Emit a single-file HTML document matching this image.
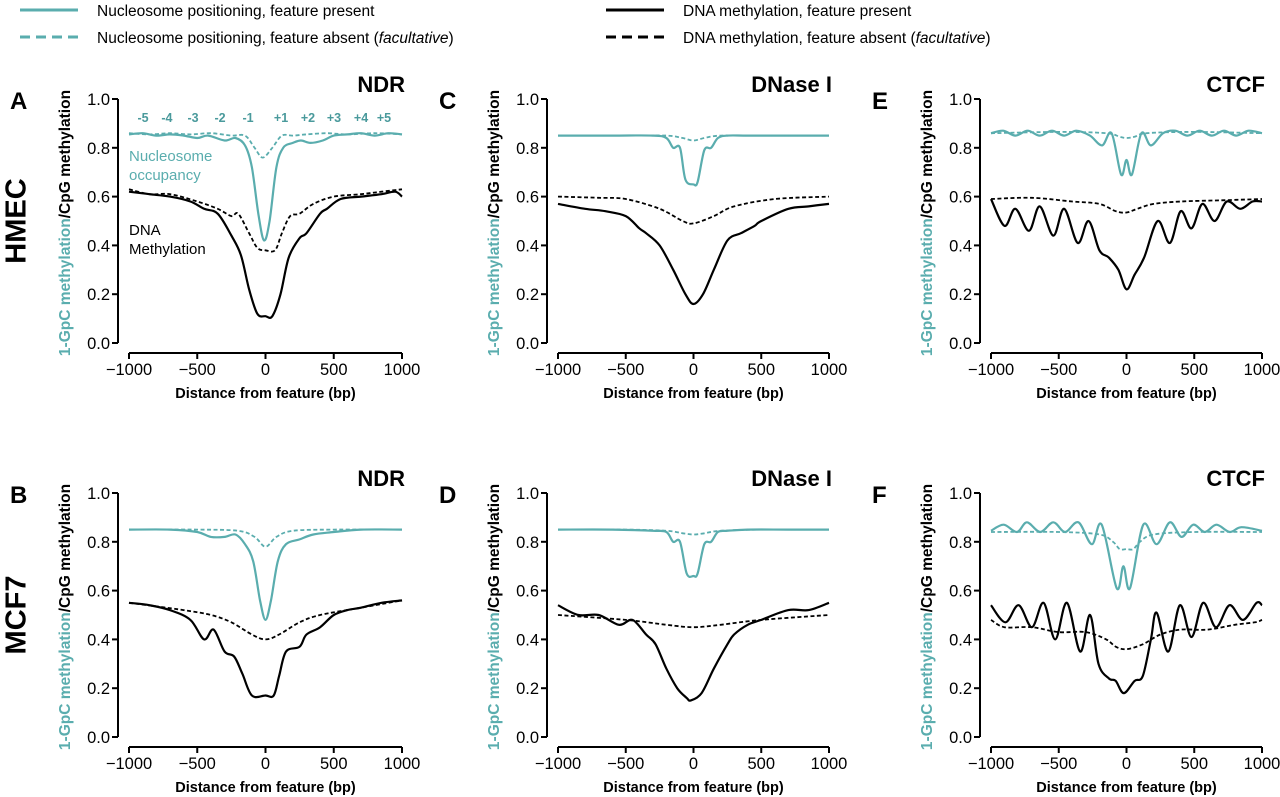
<!DOCTYPE html>
<html><head><meta charset="utf-8">
<style>
body{margin:0;background:#fff;}
svg{display:block;font-family:"Liberation Sans",Arial,sans-serif;}
</style></head>
<body>
<svg id="fig" width="1280" height="797" viewBox="0 0 1280 797" xmlns="http://www.w3.org/2000/svg">
<g font-size="15.5">
  <line x1="20" y1="10" x2="78" y2="10" stroke="#5aadae" stroke-width="3"/>
  <text x="97" y="16">Nucleosome positioning, feature present</text>
  <line x1="20" y1="37" x2="78" y2="37" stroke="#5aadae" stroke-width="3" stroke-dasharray="10,6"/>
  <text x="97" y="43">Nucleosome positioning, feature absent (<tspan font-style="italic">facultative</tspan>)</text>
  <line x1="606" y1="10" x2="664" y2="10" stroke="#000" stroke-width="3"/>
  <text x="683" y="16">DNA methylation, feature present</text>
  <line x1="606" y1="37" x2="664" y2="37" stroke="#000" stroke-width="3" stroke-dasharray="10,6"/>
  <text x="683" y="43">DNA methylation, feature absent (<tspan font-style="italic">facultative</tspan>)</text>
</g>
<text x="18" y="221" transform="rotate(-90 18 221)" text-anchor="middle" dominant-baseline="middle" font-size="29" font-weight="bold">HMEC</text>
<text x="18" y="615" transform="rotate(-90 18 615)" text-anchor="middle" dominant-baseline="middle" font-size="29" font-weight="bold">MCF7</text>
</svg>
<script>
const TEAL = '#5aadae';
const xTicks = [-1000, -500, 0, 500, 1000];
const xTickLabels = ['\u22121000', '\u2212500', '0', '500', '1000'];
const yTicks = [0, 0.2, 0.4, 0.6, 0.8, 1.0];
const yTickLabels = ['0.0', '0.2', '0.4', '0.6', '0.8', '1.0'];
const panelLetters = ['A', 'C', 'E', 'B', 'D', 'F'];
const panelTitles = ['NDR', 'DNase I', 'CTCF', 'NDR', 'DNase I', 'CTCF'];
const nucLabels = ['-5','-4','-3','-2','-1','+1','+2','+3','+4','+5'];
const nucLabelBp = [-897,-722,-531,-333,-128,114,311,502,700,868];

const A_nucP_x = [-1000,-900,-800,-700,-600,-500,-420,-300,-220,-150,-100,-50,-10,30,80,130,200,260,330,420,500,600,700,800,900,1000];
const A_nucP_y = [0.855,0.86,0.85,0.855,0.85,0.84,0.85,0.83,0.84,0.81,0.72,0.52,0.42,0.5,0.72,0.80,0.82,0.83,0.82,0.83,0.85,0.855,0.86,0.85,0.86,0.855];
const A_nucA_x = [-1000,-850,-700,-550,-400,-250,-150,-80,-20,50,120,200,300,450,600,800,1000];
const A_nucA_y = [0.86,0.855,0.86,0.855,0.86,0.85,0.85,0.80,0.76,0.80,0.85,0.85,0.855,0.86,0.855,0.86,0.855];
const A_dnaP_x = [-1000,-850,-700,-550,-450,-350,-250,-180,-120,-60,0,50,110,170,250,300,400,450,550,700,850,950,1000];
const A_dnaP_y = [0.62,0.61,0.60,0.58,0.55,0.53,0.44,0.36,0.22,0.12,0.11,0.11,0.20,0.35,0.43,0.45,0.53,0.55,0.59,0.60,0.61,0.62,0.60];
const A_dnaA_x = [-1000,-850,-700,-500,-350,-250,-200,-120,-60,0,70,120,180,250,350,500,700,850,1000];
const A_dnaA_y = [0.63,0.61,0.61,0.58,0.55,0.52,0.53,0.45,0.39,0.38,0.38,0.45,0.52,0.53,0.57,0.60,0.61,0.62,0.63];

const C_nucP_x = [-1000,-600,-300,-200,-150,-100,-60,0,30,80,130,180,250,400,700,1000];
const C_nucP_y = [0.85,0.85,0.85,0.84,0.80,0.80,0.67,0.65,0.66,0.79,0.80,0.84,0.85,0.85,0.85,0.85];
const C_nucA_x = [-1000,-500,-200,-80,0,80,200,500,1000];
const C_nucA_y = [0.85,0.85,0.85,0.84,0.83,0.84,0.85,0.85,0.85];
const C_dnaP_x = [-1000,-800,-650,-500,-400,-350,-250,-150,-60,0,70,150,250,350,450,500,700,850,1000];
const C_dnaP_y = [0.57,0.55,0.54,0.52,0.47,0.45,0.40,0.30,0.20,0.16,0.20,0.30,0.42,0.45,0.48,0.50,0.55,0.56,0.57];
const C_dnaA_x = [-1000,-700,-500,-250,-80,0,150,300,600,1000];
const C_dnaA_y = [0.60,0.595,0.59,0.55,0.50,0.49,0.52,0.56,0.59,0.60];

const E_nucP_x = [-1000,-910,-820,-730,-640,-550,-460,-370,-270,-180,-110,-40,0,40,110,180,270,360,450,540,630,720,810,900,1000];
const E_nucP_y = [0.86,0.87,0.85,0.87,0.85,0.87,0.85,0.87,0.85,0.81,0.86,0.69,0.75,0.69,0.86,0.81,0.86,0.87,0.85,0.87,0.85,0.87,0.85,0.87,0.86];
const E_nucA_x = [-1000,-500,-150,-50,0,60,150,500,1000];
const E_nucA_y = [0.86,0.865,0.86,0.845,0.84,0.845,0.86,0.865,0.86];
const E_dnaP_x = [-1000,-900,-820,-720,-640,-540,-460,-360,-280,-200,-130,-60,0,60,130,230,320,400,480,560,650,740,840,930,1000];
const E_dnaP_y = [0.59,0.48,0.55,0.46,0.56,0.44,0.55,0.41,0.50,0.38,0.35,0.30,0.22,0.28,0.35,0.50,0.41,0.54,0.47,0.57,0.50,0.58,0.55,0.58,0.58];
const E_dnaA_x = [-1000,-700,-400,-200,-80,0,80,200,400,700,1000];
const E_dnaA_y = [0.59,0.595,0.58,0.57,0.54,0.535,0.55,0.57,0.58,0.585,0.59];

const B_nucP_x = [-1000,-700,-500,-400,-300,-220,-150,-90,-40,0,40,90,150,250,350,500,700,1000];
const B_nucP_y = [0.85,0.85,0.84,0.82,0.82,0.83,0.79,0.72,0.56,0.48,0.56,0.72,0.79,0.81,0.83,0.84,0.85,0.85];
const B_nucA_x = [-1000,-500,-200,-80,0,80,200,500,1000];
const B_nucA_y = [0.85,0.85,0.845,0.82,0.78,0.82,0.845,0.85,0.85];
const B_dnaP_x = [-1000,-850,-700,-550,-450,-380,-300,-230,-170,-100,0,60,100,150,250,300,400,500,600,700,850,1000];
const B_dnaP_y = [0.55,0.54,0.52,0.48,0.40,0.44,0.35,0.33,0.26,0.17,0.17,0.17,0.25,0.35,0.37,0.42,0.45,0.50,0.52,0.53,0.55,0.56];
const B_dnaA_x = [-1000,-600,-400,-250,-100,0,100,250,400,700,1000];
const B_dnaA_y = [0.55,0.52,0.50,0.47,0.42,0.40,0.42,0.47,0.50,0.53,0.56];

const D_nucP_x = [-1000,-600,-300,-200,-150,-100,-50,0,30,80,130,180,250,400,700,1000];
const D_nucP_y = [0.85,0.85,0.845,0.84,0.80,0.80,0.67,0.66,0.67,0.79,0.80,0.84,0.845,0.85,0.85,0.85];
const D_nucA_x = [-1000,-500,-200,-80,0,80,200,500,1000];
const D_nucA_y = [0.85,0.85,0.845,0.835,0.83,0.835,0.845,0.85,0.85];
const D_dnaP_x = [-1000,-850,-700,-550,-450,-350,-280,-200,-120,-50,-20,60,150,250,300,400,500,700,850,1000];
const D_dnaP_y = [0.54,0.50,0.50,0.46,0.48,0.42,0.38,0.28,0.20,0.16,0.15,0.18,0.28,0.38,0.42,0.46,0.48,0.52,0.52,0.55];
const D_dnaA_x = [-1000,-500,-200,0,200,500,1000];
const D_dnaA_y = [0.50,0.48,0.46,0.45,0.46,0.48,0.50];

const F_nucP_x = [-1000,-907,-808,-735,-637,-540,-453,-355,-256,-183,-72,-23,26,124,222,320,406,492,578,664,762,848,1000];
const F_nucP_y = [0.845,0.87,0.84,0.88,0.84,0.88,0.84,0.88,0.79,0.87,0.61,0.70,0.61,0.87,0.79,0.88,0.82,0.87,0.84,0.87,0.84,0.86,0.845];
const F_nucA_x = [-1000,-500,-200,-100,-50,0,50,100,200,500,1000];
const F_nucA_y = [0.84,0.84,0.83,0.80,0.77,0.77,0.77,0.80,0.83,0.84,0.84];
const F_dnaP_x = [-1000,-894,-796,-698,-612,-526,-440,-342,-269,-207,-130,-80,-20,60,120,180,222,308,394,480,566,660,760,860,960,1000];
const F_dnaP_y = [0.54,0.47,0.54,0.45,0.55,0.40,0.55,0.35,0.50,0.30,0.24,0.23,0.18,0.23,0.25,0.40,0.51,0.35,0.54,0.41,0.55,0.45,0.54,0.48,0.55,0.54];
const F_dnaA_x = [-1000,-900,-700,-500,-300,-150,-80,0,120,250,400,600,800,950,1000];
const F_dnaA_y = [0.48,0.45,0.45,0.43,0.43,0.40,0.37,0.36,0.38,0.42,0.44,0.44,0.46,0.47,0.48];

const panelData = [
  [[A_nucP_x,A_nucP_y],[A_nucA_x,A_nucA_y],[A_dnaP_x,A_dnaP_y],[A_dnaA_x,A_dnaA_y]],
  [[C_nucP_x,C_nucP_y],[C_nucA_x,C_nucA_y],[C_dnaP_x,C_dnaP_y],[C_dnaA_x,C_dnaA_y]],
  [[E_nucP_x,E_nucP_y],[E_nucA_x,E_nucA_y],[E_dnaP_x,E_dnaP_y],[E_dnaA_x,E_dnaA_y]],
  [[B_nucP_x,B_nucP_y],[B_nucA_x,B_nucA_y],[B_dnaP_x,B_dnaP_y],[B_dnaA_x,B_dnaA_y]],
  [[D_nucP_x,D_nucP_y],[D_nucA_x,D_nucA_y],[D_dnaP_x,D_dnaP_y],[D_dnaA_x,D_dnaA_y]],
  [[F_nucP_x,F_nucP_y],[F_nucA_x,F_nucA_y],[F_dnaP_x,F_dnaP_y],[F_dnaA_x,F_dnaA_y]]
];
const seriesNames = ['nucleosome-present-line','nucleosome-absent-line','methylation-present-line','methylation-absent-line'];

const cols = [{ax:118,x0:129,x1:402},{ax:547,x0:558,x1:829},{ax:980,x0:991,x1:1262}];
const rows = [{top:99,bot:343},{top:493,bot:737}];
const NS = 'http://www.w3.org/2000/svg';
const svg = document.getElementById('fig');

function mk(tag, attrs, parent, text) {
  const e = document.createElementNS(NS, tag);
  for (const k in attrs) e.setAttribute(k, attrs[k]);
  if (text !== undefined) e.textContent = text;
  parent.appendChild(e);
  return e;
}
function smoothPath(pts) {
  let d = 'M' + pts[0][0].toFixed(1) + ',' + pts[0][1].toFixed(1);
  for (let i = 0; i < pts.length - 1; i++) {
    const p0 = pts[Math.max(i-1,0)], p1 = pts[i], p2 = pts[i+1], p3 = pts[Math.min(i+2,pts.length-1)];
    const c1x = p1[0] + (p2[0]-p0[0])/6, c1y = p1[1] + (p2[1]-p0[1])/6;
    const c2x = p2[0] - (p3[0]-p1[0])/6, c2y = p2[1] - (p3[1]-p1[1])/6;
    d += 'C' + c1x.toFixed(1)+','+c1y.toFixed(1)+' '+c2x.toFixed(1)+','+c2y.toFixed(1)+' '+p2[0].toFixed(1)+','+p2[1].toFixed(1);
  }
  return d;
}

panelData.forEach((series, pi) => {
  const c = cols[pi % 3], r = rows[Math.floor(pi / 3)];
  const xs = v => c.x0 + (v + 1000) / 2000 * (c.x1 - c.x0);
  const ys = v => r.bot - v * (r.bot - r.top);
  const g = mk('g', {}, svg);
  
  

  const letter = mk('text', {x: c.ax - 108, y: r.top + 10, 'font-size': 24, 'font-weight': 'bold'}, g, panelLetters[pi]);
  
  
  const title = mk('text', {x: c.x1 + 3, y: r.top - 7, 'font-size': 22, 'font-weight': 'bold', 'text-anchor': 'end'}, g, panelTitles[pi]);
  
  

  const yax = mk('line', {x1: c.ax, y1: r.top, x2: c.ax, y2: r.bot, stroke: '#000', 'stroke-width': 2}, g);
  
  
  yTicks.forEach((t, i) => {
    const y = ys(t);
    const tk = mk('line', {x1: c.ax - 6, y1: y, x2: c.ax, y2: y, stroke: '#000', 'stroke-width': 2}, g);
    
    
    const tl = mk('text', {x: c.ax - 8, y: y + 6, 'font-size': 16.5, 'text-anchor': 'end'}, g, yTickLabels[i]);
    
    
  });
  const xAxisY = r.bot + 10;
  const xax = mk('line', {x1: c.x0, y1: xAxisY, x2: c.x1, y2: xAxisY, stroke: '#000', 'stroke-width': 2}, g);
  
  
  xTicks.forEach((t, i) => {
    const x = xs(t);
    const tk = mk('line', {x1: x, y1: xAxisY, x2: x, y2: xAxisY + 6, stroke: '#000', 'stroke-width': 2}, g);
    
    
    const tl = mk('text', {x: x, y: xAxisY + 22, 'font-size': 16.5, 'text-anchor': 'middle'}, g, xTickLabels[i]);
    
    
  });
  const xt = mk('text', {x: (c.x0 + c.x1) / 2, y: r.bot + 55, 'font-size': 14.5, 'font-weight': 'bold', 'text-anchor': 'middle'}, g, 'Distance from feature (bp)');
  
  
  const yl = c.ax - 52, yc = (r.top + r.bot) / 2 + 2;
  const yt = mk('text', {x: yl, y: yc, transform: 'rotate(-90 ' + yl + ' ' + yc + ')', 'font-size': 15.5, 'font-weight': 'bold', 'text-anchor': 'middle', 'dominant-baseline': 'middle'}, g);
  
  
  mk('tspan', {fill: TEAL}, yt, '1-GpC methylation');
  mk('tspan', {fill: '#000'}, yt, '/CpG methylation');

  series.forEach((s, si) => {
    const pts = s[0].map((x, k) => [xs(x), ys(s[1][k])]);
    const attrs = {d: smoothPath(pts), fill: 'none', stroke: si < 2 ? TEAL : '#000', 'stroke-width': si % 2 === 0 ? 2.2 : 1.8, 'stroke-linejoin': 'round'};
    if (si % 2 === 1) attrs['stroke-dasharray'] = '4,2.5';
    const p = mk('path', attrs, g);
    
    
  });

  if (pi === 0) {
    nucLabels.forEach((lab, i) => {
      const t = mk('text', {x: xs(nucLabelBp[i]), y: ys(0.905), 'font-size': 12.5, 'font-weight': 'bold', fill: '#4a9a9c', 'text-anchor': 'middle'}, g, lab);
      
      
    });
    const n1 = mk('text', {x: 129, y: 161, 'font-size': 15, fill: TEAL}, g, 'Nucleosome');
    
    
    const n2 = mk('text', {x: 129, y: 180, 'font-size': 15, fill: TEAL}, g, 'occupancy');
    
    
    const m1 = mk('text', {x: 129, y: 235, 'font-size': 15}, g, 'DNA');
    
    
    const m2 = mk('text', {x: 129, y: 254, 'font-size': 15}, g, 'Methylation');
    
    
  }
});
</script>
</body></html>
